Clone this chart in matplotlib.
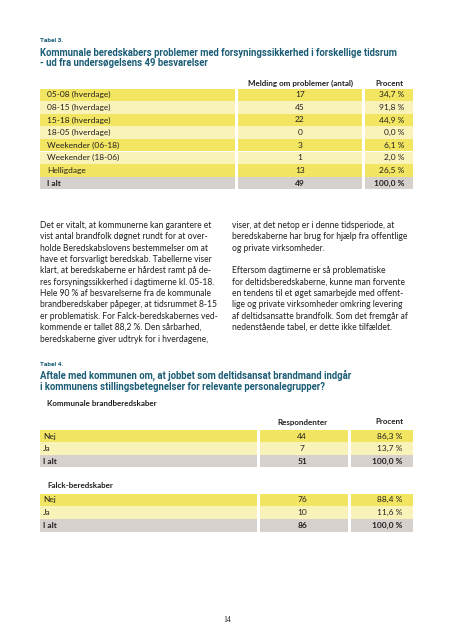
import matplotlib
matplotlib.use('Agg')
from matplotlib import pyplot as plt

# Tabel 3
t3_labels = ['05-08 (hverdage)', '08-15 (hverdage)', '15-18 (hverdage)', '18-05 (hverdage)',
             'Weekender (06-18)', 'Weekender (18-06)', 'Helligdage']
t3_counts = [17, 45, 22, 0, 3, 1, 13]
t3_pct = [34.7, 91.8, 44.9, 0.0, 6.1, 2.0, 26.5]
t3_total = [49, 100.0]

# Tabel 4
t4_labels = ['Nej', 'Ja']
kom_counts = [44, 7]
kom_pct = [86.3, 13.7]
kom_total = [51, 100.0]
falck_counts = [76, 10]
falck_pct = [88.4, 11.6]
falck_total = [86, 100.0]

left_text = ['Det er vitalt, at kommunerne kan garantere et',
             'vist antal brandfolk døgnet rundt for at over-',
             'holde Beredskabslovens bestemmelser om at',
             'have et forsvarligt beredskab. Tabellerne viser',
             'klart, at beredskaberne er hårdest ramt på de-',
             'res forsyningssikkerhed i dagtimerne kl. 05-18.',
             'Hele 90 % af besvarelserne fra de kommunale',
             'brandberedskaber påpeger, at tidsrummet 8-15',
             'er problematisk. For Falck-beredskabernes ved-',
             'kommende er tallet 88,2 %. Den sårbarhed,',
             'beredskaberne giver udtryk for i hverdagene,']
right_text = ['viser, at det netop er i denne tidsperiode, at',
              'beredskaberne har brug for hjælp fra offentlige',
              'og private virksomheder.',
              '',
              'Eftersom dagtimerne er så problematiske',
              'for deltidsberedskaberne, kunne man forvente',
              'en tendens til et øget samarbejde med offent-',
              'lige og private virksomheder omkring levering',
              'af deltidsansatte brandfolk. Som det fremgår af',
              'nedenstående tabel, er dette ikke tilfældet.']

title_font = 'Roboto'
body_font = 'Lato'

teal = '#1b5d76'
txt = '#231f20'
dark_y = '#f2e562'
light_y = '#faf3b9'
grey = '#d6d1cd'


def pct(v):
    return ('%.1f' % v).replace('.', ',') + ' %'


fig = plt.figure(figsize=(4.53, 6.4), dpi=100)
ax = fig.add_axes([0, 0, 1, 1])
ax.set_xlim(0, 453)
ax.set_ylim(640, 0)
ax.axis('off')


def table(top, h, cols, labels, counts, pcts, total, lab_x, num_x, pct_x):
    n = len(labels)
    ys = [top + i * h for i in range(n + 1)]
    colors = [dark_y if i % 2 == 0 else light_y for i in range(n)] + [grey]
    for (x0, x1) in cols:
        ax.barh(ys, x1 - x0, left=x0, height=h, align='edge', color=colors, linewidth=0)
    allc = list(counts) + [total[0]]
    allp = list(pcts) + [total[1]]
    for i, y in enumerate(ys):
        w = 'bold' if i == n else 'normal'
        lab = labels[i] if i < n else 'I alt'
        yc = y + h / 2
        ax.text(lab_x, yc, lab, fontsize=6, family=body_font, weight=w, color=txt, va='center')
        ax.text(num_x, yc, str(allc[i]), fontsize=6, family=body_font, weight=w, color=txt,
                va='center', ha='center')
        ax.text(pct_x, yc, pct(allp[i]), fontsize=6, family=body_font, weight=w, color=txt,
                va='center', ha='right')


# Tabel 3
ax.text(40, 41, 'Tabel 3.', fontsize=4.6, family=title_font, weight='bold', color=teal, va='center')
ax.text(40, 52.5, 'Kommunale beredskabers problemer med forsyningssikkerhed i forskellige tidsrum',
        fontsize=6.85, family=title_font, weight='bold', color=teal, va='center')
ax.text(40, 63.5, '- ud fra undersøgelsens 49 besvarelser',
        fontsize=6.85, family=title_font, weight='bold', color=teal, va='center')
ax.text(300, 83, 'Melding om problemer (antal)', fontsize=5.8, family=body_font, weight='bold',
        color=txt, va='center', ha='center')
ax.text(404, 83, 'Procent', fontsize=5.8, family=body_font, weight='bold', color=txt,
        va='center', ha='right')
table(88.5, 12.6, [(40, 235), (238, 362), (365, 413)], t3_labels, t3_counts, t3_pct, t3_total,
      47, 300, 404)

# tekst
for i, line in enumerate(left_text):
    ax.text(40.5, 225.5 + i * 11.35, line, fontsize=6.15, family=body_font, color=txt, va='center')
for i, line in enumerate(right_text):
    ax.text(232.5, 225.5 + i * 11.35, line, fontsize=6.15, family=body_font, color=txt, va='center')

# Tabel 4
ax.text(40, 365, 'Tabel 4.', fontsize=4.6, family=title_font, weight='bold', color=teal, va='center')
ax.text(40, 375.5, 'Aftale med kommunen om, at jobbet som deltidsansat brandmand indgår',
        fontsize=6.85, family=title_font, weight='bold', color=teal, va='center')
ax.text(40, 387, 'i kommunens stillingsbetegnelser for relevante personalegrupper?',
        fontsize=6.85, family=title_font, weight='bold', color=teal, va='center')
ax.text(47, 403, 'Kommunale brandberedskaber', fontsize=5.8, family=body_font, weight='bold',
        color=txt, va='center')
ax.text(302, 422, 'Respondenter', fontsize=5.8, family=body_font, weight='bold', color=txt,
        va='center', ha='center')
ax.text(403, 422, 'Procent', fontsize=5.8, family=body_font, weight='bold', color=txt,
        va='center', ha='right')
table(430, 12.4, [(40, 257), (260, 348), (351, 413)], t4_labels, kom_counts, kom_pct, kom_total,
      43, 302, 402)
ax.text(47, 486, 'Falck-beredskaber', fontsize=5.8, family=body_font, weight='bold',
        color=txt, va='center')
table(493.5, 12.7, [(40, 257), (260, 348), (351, 413)], t4_labels, falck_counts, falck_pct,
      falck_total, 43, 302, 402)

ax.text(227, 620, '14', fontsize=5.5, family='Liberation Serif', color=txt, va='center', ha='center')

fig.savefig('out.png', dpi=100)
